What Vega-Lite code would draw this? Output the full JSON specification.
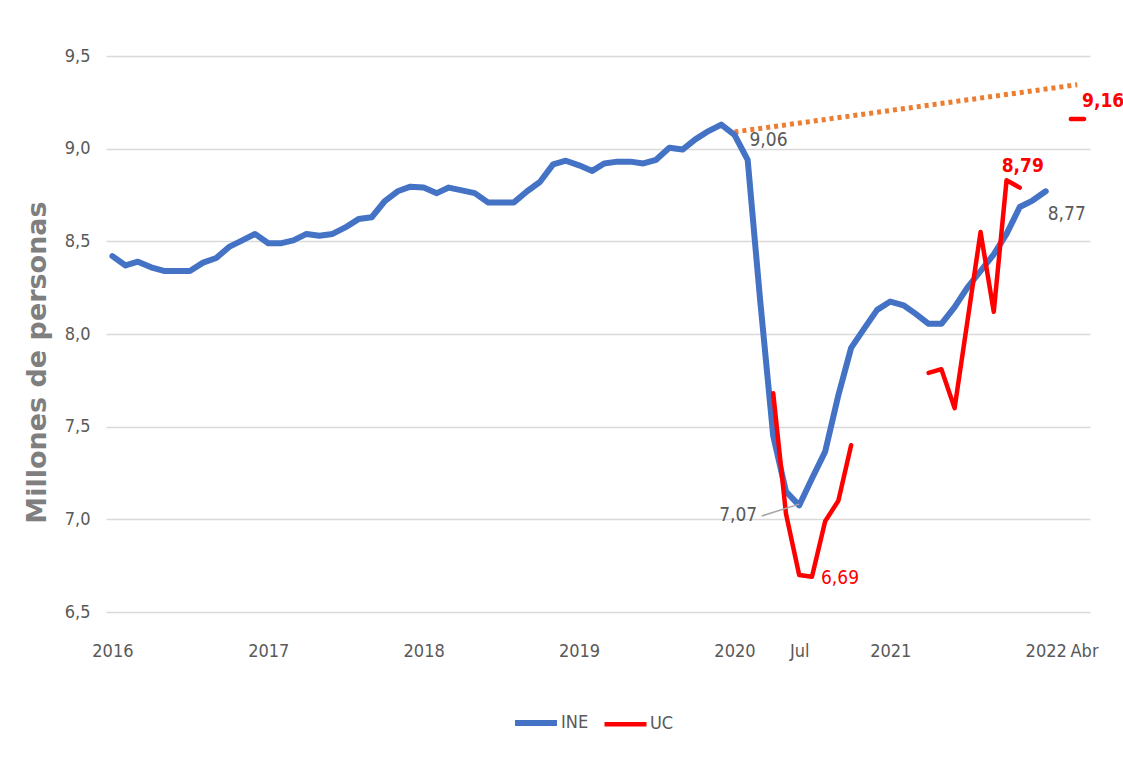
{
  "$schema": "https://vega.github.io/schema/vega-lite/v6.json",
  "width": 984,
  "height": 556,
  "autosize": {"type": "none"},
  "padding": {"left": 106, "top": 56, "right": 33, "bottom": 145},
  "background": "white",
  "config": {"view": {"stroke": null}, "font": "DejaVu Sans Condensed, Liberation Sans, sans-serif"},
  "encoding": {
    "x": {
      "field": "date", "type": "temporal",
      "scale": {"domain": [{"year": 2015, "month": 12, "date": 17}, {"year": 2022, "month": 4, "date": 15}]},
      "axis": {
        "title": null, "grid": false, "domain": false, "ticks": false, "tickSize": 0,
        "labelPadding": 30, "labelFontSize": 18, "labelColor": "#595959", "labelFont": "DejaVu Sans Condensed, Liberation Sans, sans-serif",
        "labelOverlap": false, "labelFlush": false,
        "values": [
          {"year": 2016, "month": 1, "date": 1}, {"year": 2017, "month": 1, "date": 1},
          {"year": 2018, "month": 1, "date": 1}, {"year": 2019, "month": 1, "date": 1},
          {"year": 2020, "month": 1, "date": 1}, {"year": 2020, "month": 6, "date": 1},
          {"year": 2021, "month": 1, "date": 1}, {"year": 2022, "month": 1, "date": 1},
          {"year": 2022, "month": 4, "date": 1}
        ],
        "labelExpr": "month(datum.value) == 0 ? timeFormat(datum.value, '%Y') : (month(datum.value) == 5 ? 'Jul' : 'Abr')"
      }
    },
    "y": {
      "field": "value", "type": "quantitative",
      "scale": {"domain": [6.5, 9.5], "nice": false, "zero": false},
      "axis": {
        "title": "Millones de personas", "titleFont": "DejaVu Sans", "titleFontWeight": "bold",
        "titleFontSize": 27, "titleColor": "#7F7F7F", "titlePadding": 13, "titleY": 306,
        "values": [6.5, 7.0, 7.5, 8.0, 8.5, 9.0, 9.5],
        "labelExpr": "replace(format(datum.value, '.1f'), '.', ',')",
        "grid": true, "gridColor": "#D9D9D9", "gridWidth": 1.5,
        "domain": false, "ticks": false, "tickSize": 0, "labelPadding": 16,
        "labelFontSize": 18, "labelColor": "#595959", "labelFont": "DejaVu Sans Condensed, Liberation Sans, sans-serif"
      }
    }
  },
  "layer": [
    {
      "data": {
        "values": [
          {"date": "2020-01-01", "value": 9.09},
          {"date": "2022-03-16", "value": 9.345}
        ],
        "format": {"parse": {"date": "date:'%Y-%m-%d'"}}
      },
      "mark": {"type": "line", "color": "#ED7D31", "strokeWidth": 5, "strokeDash": [4, 4]}
    },
    {
      "data": {
        "values": [
          {"date": "2016-01-01", "series": "INE", "seg": "INE", "value": 8.42},
          {"date": "2016-02-01", "series": "INE", "seg": "INE", "value": 8.37},
          {"date": "2016-03-01", "series": "INE", "seg": "INE", "value": 8.39},
          {"date": "2016-04-01", "series": "INE", "seg": "INE", "value": 8.36},
          {"date": "2016-05-01", "series": "INE", "seg": "INE", "value": 8.34},
          {"date": "2016-06-01", "series": "INE", "seg": "INE", "value": 8.34},
          {"date": "2016-07-01", "series": "INE", "seg": "INE", "value": 8.34},
          {"date": "2016-08-01", "series": "INE", "seg": "INE", "value": 8.385},
          {"date": "2016-09-01", "series": "INE", "seg": "INE", "value": 8.41},
          {"date": "2016-10-01", "series": "INE", "seg": "INE", "value": 8.47},
          {"date": "2016-11-01", "series": "INE", "seg": "INE", "value": 8.505},
          {"date": "2016-12-01", "series": "INE", "seg": "INE", "value": 8.54},
          {"date": "2017-01-01", "series": "INE", "seg": "INE", "value": 8.49},
          {"date": "2017-02-01", "series": "INE", "seg": "INE", "value": 8.49},
          {"date": "2017-03-01", "series": "INE", "seg": "INE", "value": 8.505},
          {"date": "2017-04-01", "series": "INE", "seg": "INE", "value": 8.54},
          {"date": "2017-05-01", "series": "INE", "seg": "INE", "value": 8.53},
          {"date": "2017-06-01", "series": "INE", "seg": "INE", "value": 8.54},
          {"date": "2017-07-01", "series": "INE", "seg": "INE", "value": 8.575},
          {"date": "2017-08-01", "series": "INE", "seg": "INE", "value": 8.62},
          {"date": "2017-09-01", "series": "INE", "seg": "INE", "value": 8.63},
          {"date": "2017-10-01", "series": "INE", "seg": "INE", "value": 8.715},
          {"date": "2017-11-01", "series": "INE", "seg": "INE", "value": 8.77},
          {"date": "2017-12-01", "series": "INE", "seg": "INE", "value": 8.795},
          {"date": "2018-01-01", "series": "INE", "seg": "INE", "value": 8.79},
          {"date": "2018-02-01", "series": "INE", "seg": "INE", "value": 8.76},
          {"date": "2018-03-01", "series": "INE", "seg": "INE", "value": 8.79},
          {"date": "2018-04-01", "series": "INE", "seg": "INE", "value": 8.775},
          {"date": "2018-05-01", "series": "INE", "seg": "INE", "value": 8.76},
          {"date": "2018-06-01", "series": "INE", "seg": "INE", "value": 8.71},
          {"date": "2018-07-01", "series": "INE", "seg": "INE", "value": 8.71},
          {"date": "2018-08-01", "series": "INE", "seg": "INE", "value": 8.71},
          {"date": "2018-09-01", "series": "INE", "seg": "INE", "value": 8.77},
          {"date": "2018-10-01", "series": "INE", "seg": "INE", "value": 8.82},
          {"date": "2018-11-01", "series": "INE", "seg": "INE", "value": 8.915},
          {"date": "2018-12-01", "series": "INE", "seg": "INE", "value": 8.935},
          {"date": "2019-01-01", "series": "INE", "seg": "INE", "value": 8.91},
          {"date": "2019-02-01", "series": "INE", "seg": "INE", "value": 8.88},
          {"date": "2019-03-01", "series": "INE", "seg": "INE", "value": 8.92},
          {"date": "2019-04-01", "series": "INE", "seg": "INE", "value": 8.93},
          {"date": "2019-05-01", "series": "INE", "seg": "INE", "value": 8.93},
          {"date": "2019-06-01", "series": "INE", "seg": "INE", "value": 8.92},
          {"date": "2019-07-01", "series": "INE", "seg": "INE", "value": 8.94},
          {"date": "2019-08-01", "series": "INE", "seg": "INE", "value": 9.005},
          {"date": "2019-09-01", "series": "INE", "seg": "INE", "value": 8.995},
          {"date": "2019-10-01", "series": "INE", "seg": "INE", "value": 9.05},
          {"date": "2019-11-01", "series": "INE", "seg": "INE", "value": 9.095},
          {"date": "2019-12-01", "series": "INE", "seg": "INE", "value": 9.13},
          {"date": "2020-01-01", "series": "INE", "seg": "INE", "value": 9.075},
          {"date": "2020-02-01", "series": "INE", "seg": "INE", "value": 8.94},
          {"date": "2020-03-01", "series": "INE", "seg": "INE", "value": 8.19},
          {"date": "2020-04-01", "series": "INE", "seg": "INE", "value": 7.45},
          {"date": "2020-05-01", "series": "INE", "seg": "INE", "value": 7.15},
          {"date": "2020-06-01", "series": "INE", "seg": "INE", "value": 7.075},
          {"date": "2020-07-01", "series": "INE", "seg": "INE", "value": 7.22},
          {"date": "2020-08-01", "series": "INE", "seg": "INE", "value": 7.365},
          {"date": "2020-09-01", "series": "INE", "seg": "INE", "value": 7.67},
          {"date": "2020-10-01", "series": "INE", "seg": "INE", "value": 7.925},
          {"date": "2020-11-01", "series": "INE", "seg": "INE", "value": 8.03},
          {"date": "2020-12-01", "series": "INE", "seg": "INE", "value": 8.13},
          {"date": "2021-01-01", "series": "INE", "seg": "INE", "value": 8.175},
          {"date": "2021-02-01", "series": "INE", "seg": "INE", "value": 8.155},
          {"date": "2021-03-01", "series": "INE", "seg": "INE", "value": 8.11},
          {"date": "2021-04-01", "series": "INE", "seg": "INE", "value": 8.055},
          {"date": "2021-05-01", "series": "INE", "seg": "INE", "value": 8.055},
          {"date": "2021-06-01", "series": "INE", "seg": "INE", "value": 8.145},
          {"date": "2021-07-01", "series": "INE", "seg": "INE", "value": 8.25},
          {"date": "2021-08-01", "series": "INE", "seg": "INE", "value": 8.34},
          {"date": "2021-09-01", "series": "INE", "seg": "INE", "value": 8.43},
          {"date": "2021-10-01", "series": "INE", "seg": "INE", "value": 8.54},
          {"date": "2021-11-01", "series": "INE", "seg": "INE", "value": 8.685},
          {"date": "2021-12-01", "series": "INE", "seg": "INE", "value": 8.72},
          {"date": "2022-01-01", "series": "INE", "seg": "INE", "value": 8.77},
          {"date": "2020-04-01", "series": "UC", "seg": "UC1", "value": 7.68},
          {"date": "2020-05-01", "series": "UC", "seg": "UC1", "value": 7.03},
          {"date": "2020-06-01", "series": "UC", "seg": "UC1", "value": 6.70},
          {"date": "2020-07-01", "series": "UC", "seg": "UC1", "value": 6.69},
          {"date": "2020-08-01", "series": "UC", "seg": "UC1", "value": 6.99},
          {"date": "2020-09-01", "series": "UC", "seg": "UC1", "value": 7.10},
          {"date": "2020-10-01", "series": "UC", "seg": "UC1", "value": 7.40},
          {"date": "2021-04-01", "series": "UC", "seg": "UC2", "value": 7.79},
          {"date": "2021-05-01", "series": "UC", "seg": "UC2", "value": 7.81},
          {"date": "2021-06-01", "series": "UC", "seg": "UC2", "value": 7.60},
          {"date": "2021-08-01", "series": "UC", "seg": "UC2", "value": 8.55},
          {"date": "2021-09-01", "series": "UC", "seg": "UC2", "value": 8.12},
          {"date": "2021-10-01", "series": "UC", "seg": "UC2", "value": 8.83},
          {"date": "2021-11-01", "series": "UC", "seg": "UC2", "value": 8.79},
          {"date": "2022-03-01", "series": "UC", "seg": "UC3", "value": 9.16},
          {"date": "2022-04-01", "series": "UC", "seg": "UC3", "value": 9.16}
        ],
        "format": {"parse": {"date": "date:'%Y-%m-%d'"}}
      },
      "mark": {"type": "line", "strokeCap": "round", "strokeJoin": "round"},
      "encoding": {
        "color": {
          "field": "series", "type": "nominal",
          "scale": {"domain": ["INE", "UC"], "range": ["#4472C4", "#FF0000"]},
          "legend": {
            "orient": "none", "legendX": 406, "legendY": 643, "direction": "horizontal",
            "title": null, "symbolType": "stroke", "symbolSize": 1764, "symbolStrokeWidth": 6,
            "labelFontSize": 18, "labelColor": "#595959", "labelFont": "DejaVu Sans Condensed, Liberation Sans, sans-serif",
            "columnPadding": 6, "labelOffset": 1
          }
        },
        "strokeWidth": {
          "field": "series", "type": "nominal",
          "scale": {"domain": ["INE", "UC"], "range": [6, 4.5]},
          "legend": null
        },
        "detail": {"field": "seg", "type": "nominal"}
      }
    },
    {
      "data": {
        "values": [
          {"date": "2020-03-05", "value": 7.018},
          {"date": "2020-06-01", "value": 7.082}
        ],
        "format": {"parse": {"date": "date:'%Y-%m-%d'"}}
      },
      "mark": {"type": "line", "color": "#A6A6A6", "strokeWidth": 1.5}
    },
    {
      "data": {"values": [{"date": "2020-01-01", "value": 9.06, "label": "9,06"}], "format": {"parse": {"date": "date:'%Y-%m-%d'"}}},
      "mark": {"type": "text", "align": "left", "baseline": "middle", "dx": 15, "dy": 2, "fontSize": 19, "color": "#595959"},
      "encoding": {"text": {"field": "label"}}
    },
    {
      "data": {"values": [{"date": "2020-06-01", "value": 7.07, "label": "7,07"}], "format": {"parse": {"date": "date:'%Y-%m-%d'"}}},
      "mark": {"type": "text", "align": "right", "baseline": "middle", "dx": -42, "dy": 9, "fontSize": 19, "color": "#595959"},
      "encoding": {"text": {"field": "label"}}
    },
    {
      "data": {"values": [{"date": "2020-07-01", "value": 6.69, "label": "6,69"}], "format": {"parse": {"date": "date:'%Y-%m-%d'"}}},
      "mark": {"type": "text", "align": "left", "baseline": "middle", "dx": 9, "dy": 1, "fontSize": 19, "color": "#FF0000"},
      "encoding": {"text": {"field": "label"}}
    },
    {
      "data": {"values": [{"date": "2021-11-01", "value": 8.79, "label": "8,79"}], "format": {"parse": {"date": "date:'%Y-%m-%d'"}}},
      "mark": {"type": "text", "align": "center", "baseline": "middle", "dx": 3, "dy": -22, "fontSize": 19, "fontWeight": "bold", "color": "#FF0000"},
      "encoding": {"text": {"field": "label"}}
    },
    {
      "data": {"values": [{"date": "2022-01-01", "value": 8.77, "label": "8,77"}], "format": {"parse": {"date": "date:'%Y-%m-%d'"}}},
      "mark": {"type": "text", "align": "left", "baseline": "middle", "dx": 2, "dy": 23, "fontSize": 19, "color": "#595959"},
      "encoding": {"text": {"field": "label"}}
    },
    {
      "data": {"values": [{"date": "2022-04-01", "value": 9.16, "label": "9,16"}], "format": {"parse": {"date": "date:'%Y-%m-%d'"}}},
      "mark": {"type": "text", "align": "left", "baseline": "middle", "dx": -2, "dy": -18, "fontSize": 19, "fontWeight": "bold", "color": "#FF0000"},
      "encoding": {"text": {"field": "label"}}
    }
  ]
}
